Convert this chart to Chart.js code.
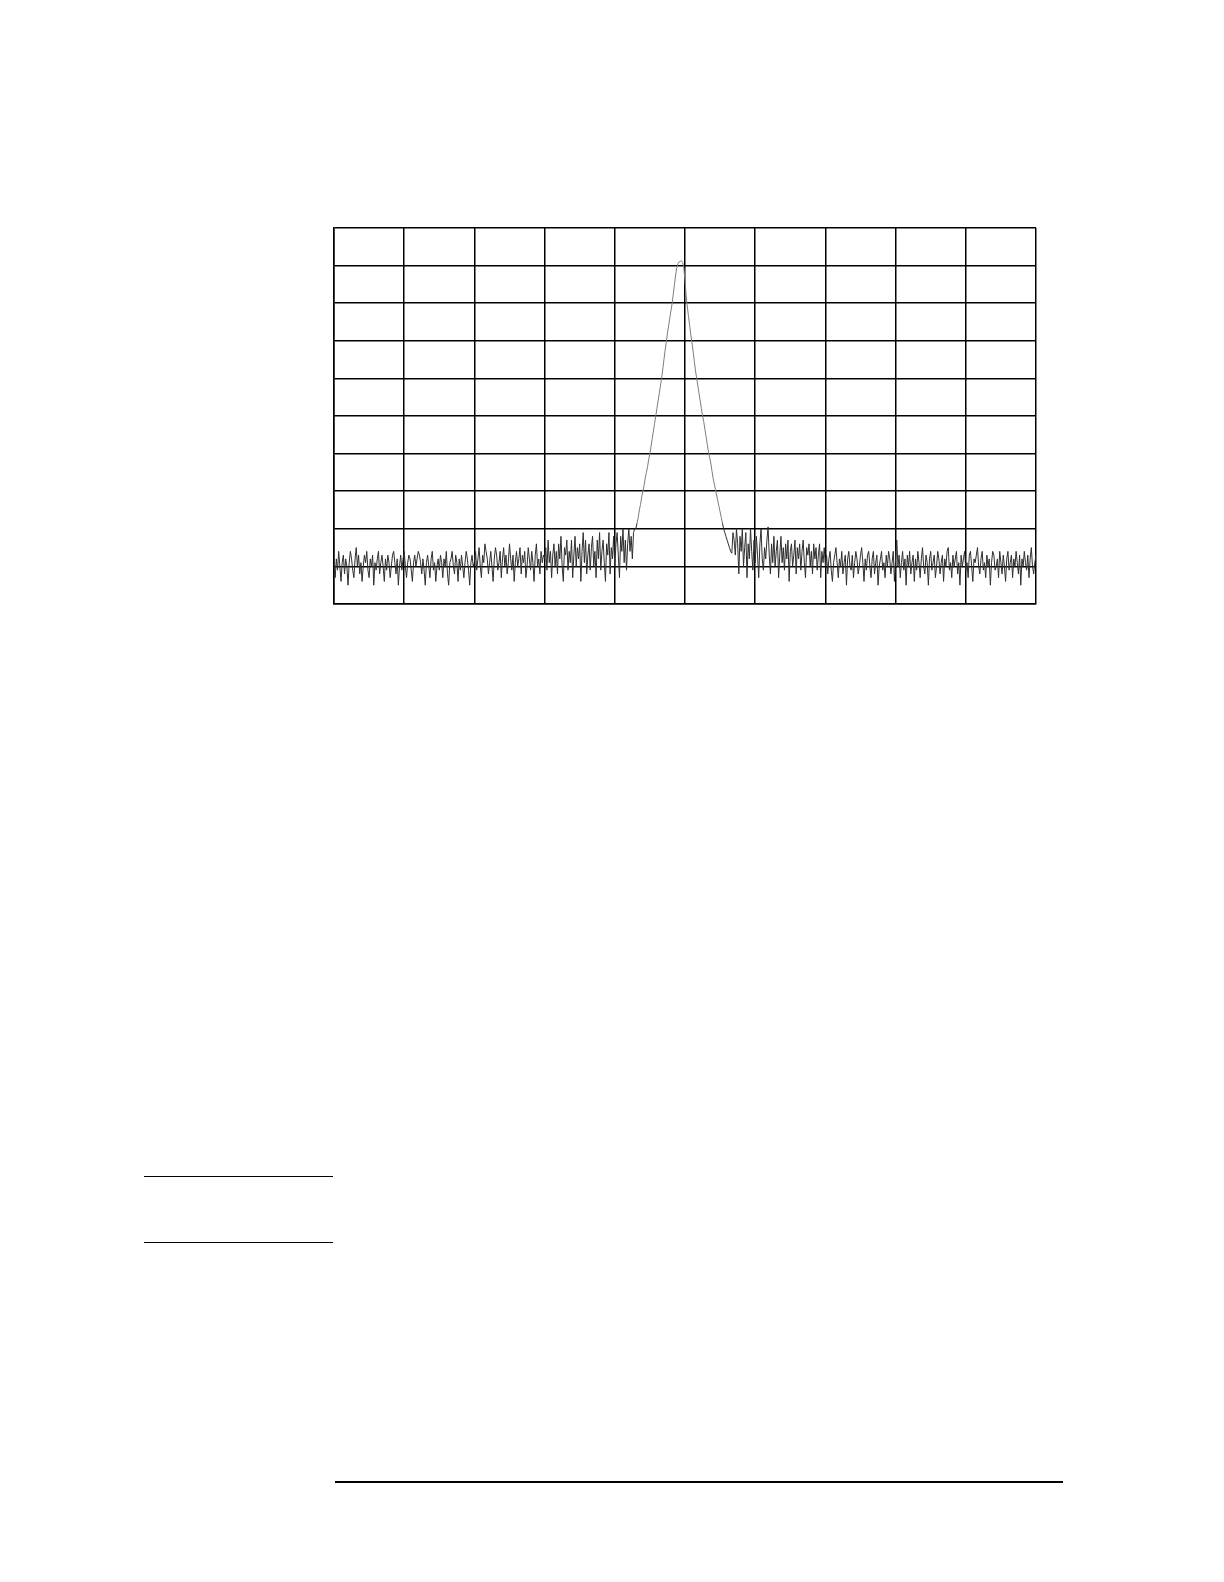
<!DOCTYPE html>
<html>
<head>
<meta charset="utf-8">
<script src="https://cdn.jsdelivr.net/npm/chart.js@4.4.1/dist/chart.umd.min.js"></script>
<style>
  body { margin: 0; background: #fff; width: 1224px; height: 1582px; position: relative; overflow: hidden; }
  #wrap { position: absolute; left: 324px; top: 218px; }
  .rule { position: absolute; background: #000; }
</style>
</head>
<body>
<div id="wrap"><canvas id="spectrum" width="722" height="396"></canvas></div>
<div class="rule" style="left:144px; top:1176px; width:189px; height:1px;"></div>
<div class="rule" style="left:144px; top:1242px; width:189px; height:1px;"></div>
<div class="rule" style="left:335px; top:1481px; width:728px; height:2px;"></div>

<script>
// Screen setup: 10 x 10 graticule, ref level at top, 10 dB/div
const refLevel = 0;
const dbPerDiv = 10;
const divisions = 10;
const sweepPoints = 601;

// Trace amplitude (dB), one value per sweep point
const traceDb = [
  // 0 - 119 : noise floor
  -89, -93, -88, -91, -86, -90, -94, -89, -87, -92,
  -88, -90, -95, -89, -86, -88, -91, -93, -88, -85,
  -90, -87, -92, -89, -94, -90, -87, -89, -86, -91,
  -93, -88, -90, -87, -95, -89, -91, -88, -86, -92,
  -89, -87, -90, -94, -88, -91, -87, -89, -93, -90,
  -87, -86, -89, -92, -88, -95, -90, -87, -91, -88,
  -86, -90, -93, -89, -87, -88, -91, -94, -89, -87,
  -90, -88, -86, -87, -89, -92, -88, -91, -95, -89,
  -87, -90, -93, -88, -86, -91, -89, -94, -90, -88,
  -91, -87, -89, -93, -88, -90, -86, -92, -95, -89,
  -88, -86, -90, -92, -87, -89, -94, -88, -91, -87,
  -90, -93, -89, -86, -88, -91, -95, -89, -87, -90,
  // 120 - 179
  -89, -86, -91, -88, -85, -90, -93, -87, -89, -84,
  -86, -88, -92, -89, -86, -90, -94, -88, -85, -87,
  -91, -89, -86, -93, -88, -85, -90, -87, -92, -89,
  -84, -88, -91, -87, -94, -89, -86, -90, -88, -85,
  -92, -87, -89, -86, -93, -90, -85, -88, -91, -86,
  -89, -94, -87, -84, -90, -88, -92, -86, -89, -87,
  // 180 - 239 : noise rising toward the carrier
  -88, -85, -91, -83, -89, -86, -93, -87, -84, -90,
  -86, -92, -84, -88, -82, -90, -94, -85, -87, -83,
  -91, -86, -89, -83, -93, -87, -82, -90, -85, -88,
  -84, -94, -86, -81, -89, -83, -92, -87, -84, -91,
  -85, -82, -90, -86, -93, -83, -88, -81, -91, -86,
  -83, -89, -94, -84, -87, -81, -92, -85, -88, -82,
  // 240 - 257
  -90, -84, -81, -87, -93, -82, -86, -80, -89, -83,
  -91, -84, -80, -86, -82, -88, -81, -80,
  // 258 - 340 : carrier
  -80, -78.5, -77, -75, -73.5, -71.5, -70, -68.5, -66.5, -65,
  -63.5, -61.5, -60, -58, -56, -54, -52, -50, -48, -46,
  -44, -42, -40, -37.5, -35, -32.5, -30.5, -28, -26, -24,
  -22, -20, -17.5, -15, -12.5, -10.5, -9.5, -9, -8.8, -8.8,
  -9.2, -10.5, -14, -18, -21, -23.5, -26, -28.5, -30.5, -33,
  -35.5, -38, -40, -42, -44, -46, -48, -50, -51.5, -53.5,
  -55.5, -57.5, -59.5, -61, -62.5, -64.5, -66.5, -68, -69.5, -71,
  -72.5, -74, -75.5, -77, -78.5, -80, -81, -82, -83, -84,
  -85, -86, -86.5,
  // 341 - 366
  -81, -83, -87, -80, -84, -92, -82, -86, -80, -90,
  -85, -81, -93, -84, -88, -80, -86, -91, -83, -89,
  -82, -87, -93, -84, -80, -88,
  // 367 - 419
  -91, -85, -88, -83, -79.5, -87, -92, -84, -89, -82,
  -90, -86, -83, -93, -87, -82, -89, -85, -91, -84,
  -88, -83, -94, -86, -84, -90, -87, -83, -92, -85,
  -88, -84, -91, -86, -83, -89, -93, -85, -87, -84,
  -90, -86, -92, -84, -88, -85, -91, -87, -84, -93,
  -86, -89, -85,
  // 420 - 600 : noise floor
  -90, -87, -92, -88, -86, -91, -94, -89, -87, -85,
  -89, -93, -88, -90, -86, -92, -89, -87, -95, -88,
  -86, -90, -91, -87, -93, -89, -86, -88, -92, -90,
  -87, -85, -89, -94, -88, -91, -87, -86, -90, -93,
  -88, -86, -92, -89, -87, -95, -90, -88, -86, -91,
  -89, -93, -87, -90, -86, -88, -92, -89, -86, -94,
  -88, -83, -90, -87, -93, -89, -86, -91, -88, -95,
  -87, -90, -86, -92, -89, -87, -94, -88, -91, -86,
  -89, -93, -88, -85, -90, -92, -87, -89, -95, -88,
  -86, -91, -89, -87, -93, -90, -86, -88, -92, -89,
  -87, -94, -88, -90, -86, -85, -91, -89, -93, -87,
  -90, -88, -86, -92, -89, -95, -87, -90, -88, -86,
  -91, -89, -93, -87, -86, -90, -94, -88, -89, -87,
  -85, -90, -92, -88, -86, -91, -89, -93, -87, -90,
  -88, -95, -89, -86, -87, -91, -90, -88, -93, -86,
  -89, -92, -87, -90, -94, -88, -86, -91, -89, -87,
  -93, -88, -90, -86, -89, -92, -87, -95, -88, -90,
  -86, -89, -91, -87, -93, -88, -85, -90, -92, -89,
  -87
];

const points = traceDb.map((v, i) => ({ x: i, y: v }));

// the carrier skirts are drawn a bit lighter than the noise, as on the screen shot
function segColor(ctx) {
  if (ctx.p0.parsed.y > -79 && ctx.p1.parsed.y > -79) return '#7c7c7c';
  return '#2e2e2e';
}

const data = {
  datasets: [{
    label: 'Trace',
    data: points,
    borderColor: '#2e2e2e',
    borderWidth: 1,
    pointRadius: 0,
    tension: 0,
    fill: false,
    segment: { borderColor: segColor }
  }]
};

const gridStyle = { color: '#000', lineWidth: 1.5, drawTicks: false };
const borderStyle = { display: true, color: '#000', width: 1.5 };

const config = {
  type: 'line',
  data: data,
  options: {
    responsive: false,
    animation: false,
    layout: { padding: 10 },
    plugins: {
      legend: { display: false },
      tooltip: { enabled: false }
    },
    scales: {
      x: {
        type: 'linear',
        min: 0,
        max: sweepPoints - 1,
        ticks: { display: false, stepSize: (sweepPoints - 1) / divisions },
        grid: gridStyle,
        border: borderStyle,
        afterFit: s => { s.height = 0; }
      },
      y: {
        min: refLevel - dbPerDiv * divisions,
        max: refLevel,
        ticks: { display: false, stepSize: dbPerDiv },
        grid: gridStyle,
        border: borderStyle,
        afterFit: s => { s.width = 0; }
      }
    }
  }
};

const spectrumChart = new Chart(document.getElementById('spectrum'), config);
</script>
</body>
</html>
